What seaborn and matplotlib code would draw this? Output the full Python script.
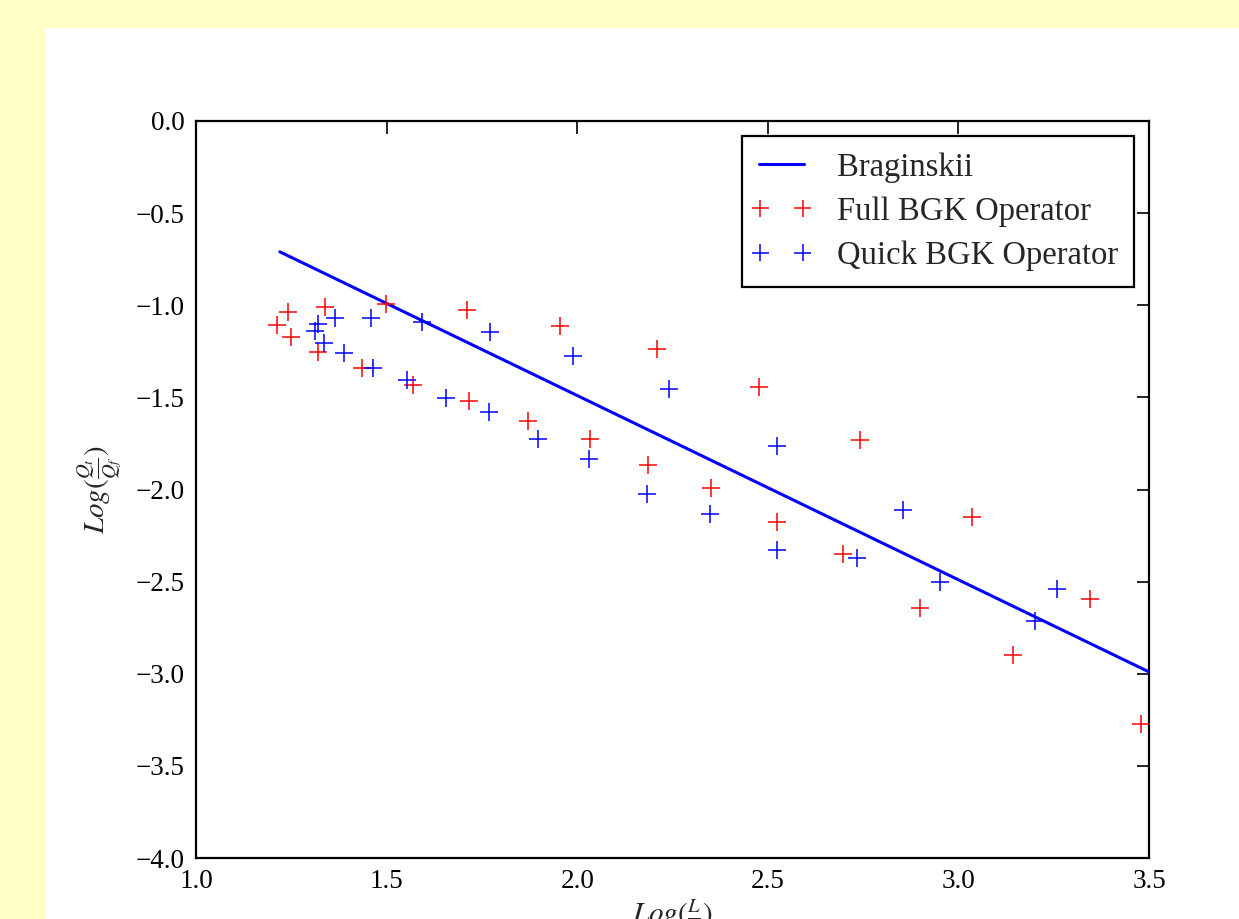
import matplotlib
matplotlib.use("Agg")
import matplotlib.pyplot as plt
import seaborn as sns
from matplotlib.patches import Rectangle
from matplotlib.collections import PathCollection
from matplotlib.legend_handler import HandlerPathCollection

# ---- data ----
brag_x = [1.22, 3.5]
brag_y = [-0.71, -2.99]

full_x = [1.212, 1.241, 1.249, 1.320, 1.338, 1.435, 1.498, 1.569, 1.711, 1.716,
          1.871, 1.955, 2.034, 2.186, 2.209, 2.351, 2.477, 2.524, 2.697, 2.742,
          2.899, 3.036, 3.143, 3.345, 3.479]
full_y = [-1.107, -1.037, -1.172, -1.254, -1.009, -1.341, -0.993, -1.433, -1.026, -1.520,
          -1.628, -1.113, -1.726, -1.867, -1.237, -1.992, -1.444, -2.176, -2.350, -1.731,
          -2.643, -2.149, -2.898, -2.594, -3.273]

quick_x = [1.312, 1.320, 1.336, 1.365, 1.388, 1.459, 1.464, 1.553, 1.593, 1.656,
           1.769, 1.771, 1.897, 1.989, 2.031, 2.183, 2.241, 2.348, 2.524, 2.524,
           2.734, 2.855, 2.952, 3.201, 3.259]
quick_y = [-1.140, -1.102, -1.205, -1.069, -1.259, -1.069, -1.341, -1.406, -1.091, -1.503,
           -1.579, -1.145, -1.726, -1.275, -1.834, -2.024, -1.455, -2.133, -1.764, -2.328,
           -2.372, -2.111, -2.502, -2.714, -2.540]

x_ticks = [1.0, 1.5, 2.0, 2.5, 3.0, 3.5]
y_ticks = [0.0, -0.5, -1.0, -1.5, -2.0, -2.5, -3.0, -3.5, -4.0]

sns.set_style("white")
plt.rcParams['font.family'] = ['Liberation Serif', 'DejaVu Serif']
plt.rcParams['mathtext.fontset'] = 'stix'

W, H = 1239, 919
fig = plt.figure(figsize=(W / 100, H / 100), dpi=100)
fig.patch.set_facecolor('#ffffc6')
fig.patches.append(Rectangle((45 / W, 0), 1 - 45 / W, 1 - 28 / H,
                             transform=fig.transFigure, facecolor='white',
                             edgecolor='none', zorder=-10))

ax = fig.add_axes([196 / W, 1 - 858 / H, (1149 - 196) / W, (858 - 121) / H])
ax.set_facecolor('white')

sns.lineplot(x=brag_x, y=brag_y, ax=ax, color='blue', linewidth=2.2,
             label='Braginskii', zorder=3)
sns.scatterplot(x=full_x, y=full_y, ax=ax, color='red', marker='+', s=150,
                linewidth=1.1, label='Full BGK Operator', zorder=4)
sns.scatterplot(x=quick_x, y=quick_y, ax=ax, color='blue', marker='+', s=150,
                linewidth=1.1, label='Quick BGK Operator', zorder=4)

ax.set_xlim(1.0, 3.5)
ax.set_ylim(-4.0, 0.0)
ax.set_xticks(x_ticks)
ax.set_yticks(y_ticks)
ax.set_xticklabels([f"{v:.1f}" for v in x_ticks])
ax.set_yticklabels([f"{v:.1f}".replace('-', '\u2212') for v in y_ticks])
ax.tick_params(direction='in', length=9, width=1.2, top=True, right=True,
               labelsize=19.5, pad=8, colors='black')
for sp in ax.spines.values():
    sp.set_color('black')
    sp.set_linewidth(1.6)

ax.set_xlabel(r'$Log(\frac{L}{\lambda})$', fontsize=21, labelpad=2)
ax.set_ylabel(r'$Log(\frac{Q_t}{Q_f})$', fontsize=21, labelpad=8)

leg = ax.legend(loc='upper right', scatterpoints=2, scatteryoffsets=[0.5],
                fontsize=23.5, frameon=True,
                fancybox=False, edgecolor='black', framealpha=1,
                borderaxespad=0.45, handlelength=1.4, handletextpad=1.0,
                borderpad=0.5, labelspacing=0.42,
                handler_map={PathCollection: HandlerPathCollection(marker_pad=0.05)})
leg.get_frame().set_linewidth(1.6)

fig.savefig('out.png', dpi=100, facecolor=fig.get_facecolor())
